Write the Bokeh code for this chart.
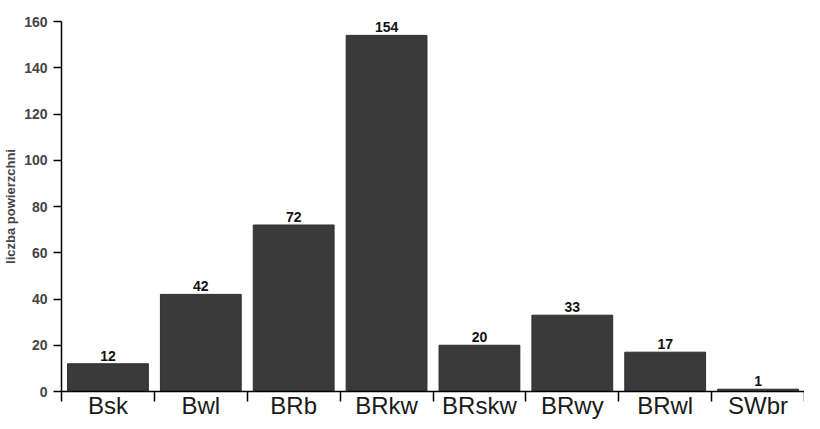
from bokeh.plotting import figure
from bokeh.models import ColumnDataSource, Range1d, FixedTicker
from bokeh.core.properties import value
from bokeh.embed import file_html
from bokeh.resources import INLINE

categories = ["Bsk", "Bwl", "BRb", "BRkw", "BRskw", "BRwy", "BRwl", "SWbr"]
counts = [12, 42, 72, 154, 20, 33, 17, 1]
y_ticks = [0, 20, 40, 60, 80, 100, 120, 140, 160]

xs = [i + 0.5 for i in range(len(categories))]
src = ColumnDataSource(dict(x=xs, y=counts, lab=[str(c) for c in counts]))

p = figure(width=804, height=421, output_backend="svg", toolbar_location=None,
           x_range=Range1d(0, len(categories)), y_range=Range1d(0, 160),
           min_border_left=57, min_border_right=0, min_border_top=21, min_border_bottom=28)
p.outline_line_color = None
p.xgrid.visible = False
p.ygrid.visible = False
p.background_fill_color = "white"

p.vbar(x="x", top="y", bottom=0, width=0.87, source=src,
       fill_color="#3a3a3a", line_color="#2e2e2e", line_width=1)
p.text(x="x", y="y", text="lab", source=src, text_align="center", text_baseline="bottom",
       y_offset=-3, text_font=value("Liberation Sans"), text_font_size="14px",
       text_font_style="bold", text_color="#111111")

# y axis
p.yaxis.ticker = FixedTicker(ticks=y_ticks)
p.yaxis.axis_label = "liczba powierzchni"
p.yaxis.axis_label_text_font = "Liberation Sans"
p.yaxis.axis_label_text_font_size = "13px"
p.yaxis.axis_label_text_font_style = "bold"
p.yaxis.axis_label_standoff = 3
p.yaxis.major_label_text_font = "Liberation Sans"
p.yaxis.major_label_text_font_size = "14px"
p.yaxis.major_label_text_font_style = "bold"
p.yaxis.major_label_standoff = 6
p.yaxis.major_tick_out = 8
p.yaxis.major_tick_in = 0
p.yaxis.minor_tick_out = 0
p.yaxis.minor_tick_in = 0
p.yaxis.axis_line_width = 1.5
p.yaxis.major_tick_line_width = 1.5

# x axis: labels at centres, ticks at category boundaries
p.xaxis.ticker = FixedTicker(ticks=xs, minor_ticks=list(range(len(categories) + 1)))
p.xaxis.major_label_overrides = {x: c for x, c in zip(xs, categories)}
p.xaxis.major_label_text_font = "Liberation Sans"
p.xaxis.major_label_text_font_size = "24px"
p.xaxis.major_label_text_color = "#1a1a1a"
p.xaxis.major_label_standoff = -10
p.xaxis.major_tick_out = 0
p.xaxis.major_tick_in = 0
p.xaxis.minor_tick_out = 10
p.xaxis.minor_tick_in = 0
p.xaxis.minor_tick_line_width = 1.5
p.xaxis.axis_line_width = 1.5

open("out.html", "w").write(file_html(p, INLINE))
